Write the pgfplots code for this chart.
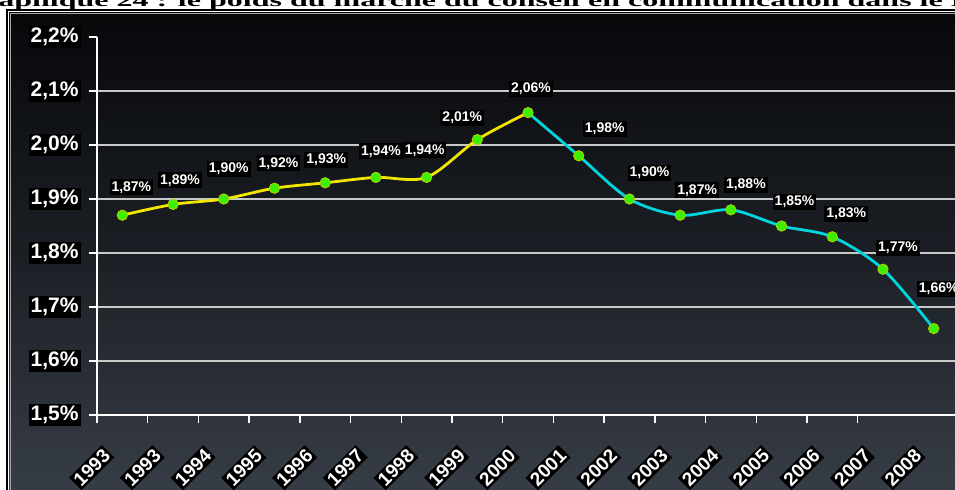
\documentclass[border=0pt]{standalone}
\usepackage{fontspec}
\setmainfont{Liberation Sans}
\newfontfamily\serifb{Liberation Serif}
\usepackage{pgfplots}
\pgfplotsset{compat=1.18}
\definecolor{bgtop}{HTML}{07080A}
\definecolor{bgmid}{HTML}{1B1F25}
\definecolor{bgbot}{HTML}{373D46}
\definecolor{lyellow}{HTML}{F2E600}
\definecolor{lcyan}{HTML}{00D4DC}
\definecolor{mgreen}{HTML}{3CF000}
\definecolor{mgedge}{HTML}{B4D200}
\definecolor{gridc}{HTML}{C8C8C8}
\tikzset{lbl/.style={fill=black, text=white, font=\bfseries\fontsize{7}{8}\selectfont, inner sep=1pt}}
\begin{document}
\begin{tikzpicture}
\path[use as bounding box] (0,0) rectangle (477.5pt,244.5pt);
\clip (0,0) rectangle (477.5pt,244.5pt);
\node[anchor=base west, inner sep=0pt, font=\serifb\bfseries\fontsize{16}{17}\selectfont] at (-1pt,241.5pt) {\scalebox{1}[0.55]{\llap{Gr}aphique 24 : le poids du marché du conseil en communication dans le PIB}};
\shade[top color=bgtop, bottom color=bgbot, middle color=bgmid] (4.5pt,-1pt) rectangle (480pt,238.5pt);
\draw[black, line width=0.8pt] (3.6pt,-2pt) -- (3.6pt,239.4pt) -- (480pt,239.4pt);
\draw[gray!70, line width=0.5pt] (5pt,-2pt) -- (5pt,238pt) -- (480pt,238pt);
\begin{axis}[
  at={(48.5pt,37pt)}, anchor=south west, scale only axis,
  width=429pt, height=189pt,
  xmin=-0.5, xmax=16.42, ymin=1.5, ymax=2.2,
  axis x line*=bottom, axis y line*=left,
  axis line style={white, line width=0.7pt},
  clip=false,
  tick align=outside,
  major tick length=4pt, minor tick length=4pt,
  tick style={white, line width=0.7pt},
  major x tick style={draw=none},
  xtick={0,...,16},
  xticklabels={1993,1993,1994,1995,1996,1997,1998,1999,2000,2001,2002,2003,2004,2005,2006,2007,2008},
  minor xtick={-0.5,0.5,...,14.5},
  ytick={1.6,1.7,1.8,1.9,2.0,2.1},
  yticklabels={{1,6\%},{1,7\%},{1,8\%},{1,9\%},{2,0\%},{2,1\%}},
  extra y ticks={1.5,2.2},
  extra y tick labels={{1,5\%},{2,2\%}},
  extra y tick style={grid=none},
  ymajorgrids,
  major grid style={gridc, line width=0.75pt},
  yticklabel style={fill=black, text=white, font=\bfseries\fontsize{10.5}{12}\selectfont, inner sep=1pt, xshift=-4pt},
  xticklabel style={xshift=-7pt, yshift=-14pt, rotate=45, anchor=east, fill=black, text=white, font=\bfseries\fontsize{9.5}{11}\selectfont, inner sep=1pt},
]
\addplot[lyellow, line width=1.4pt, smooth] coordinates {(0,1.87)(1,1.89)(2,1.90)(3,1.92)(4,1.93)(5,1.94)(6,1.94)(7,2.01)(8,2.06)};
\addplot[lcyan, line width=1.4pt, smooth] coordinates {(8,2.06)(9,1.98)(10,1.90)(11,1.87)(12,1.88)(13,1.85)(14,1.83)(15,1.77)(16,1.66)};
\addplot[only marks, mark=*, mark size=2.6pt, mark options={fill=mgreen, draw=mgedge, line width=0.4pt}] coordinates {(0,1.87)(1,1.89)(2,1.90)(3,1.92)(4,1.93)(5,1.94)(6,1.94)(7,2.01)(8,2.06)(9,1.98)(10,1.90)(11,1.87)(12,1.88)(13,1.85)(14,1.83)(15,1.77)(16,1.66)};
\node[lbl, xshift=4.5pt, yshift=14pt] at (axis cs:0,1.87) {1,87\%};
\node[lbl, xshift=3.5pt, yshift=12pt] at (axis cs:1,1.89) {1,89\%};
\node[lbl, xshift=2.5pt, yshift=15pt] at (axis cs:2,1.90) {1,90\%};
\node[lbl, xshift=2pt, yshift=12.5pt] at (axis cs:3,1.92) {1,92\%};
\node[lbl, xshift=0.5pt, yshift=11.5pt] at (axis cs:4,1.93) {1,93\%};
\node[lbl, xshift=2.5pt, yshift=13pt] at (axis cs:5,1.94) {1,94\%};
\node[lbl, xshift=-1pt, yshift=13.5pt] at (axis cs:6,1.94) {1,94\%};
\node[lbl, xshift=-7.5pt, yshift=11pt] at (axis cs:7,2.01) {2,01\%};
\node[lbl, xshift=1.5pt, yshift=12pt] at (axis cs:8,2.06) {2,06\%};
\node[lbl, xshift=13pt, yshift=13.5pt] at (axis cs:9,1.98) {1,98\%};
\node[lbl, xshift=10pt, yshift=13pt] at (axis cs:10,1.90) {1,90\%};
\node[lbl, xshift=8.5pt, yshift=12.5pt] at (axis cs:11,1.87) {1,87\%};
\node[lbl, xshift=7.5pt, yshift=12.5pt] at (axis cs:12,1.88) {1,88\%};
\node[lbl, xshift=6.5pt, yshift=12pt] at (axis cs:13,1.85) {1,85\%};
\node[lbl, xshift=7pt, yshift=11.5pt] at (axis cs:14,1.83) {1,83\%};
\node[lbl, xshift=7.5pt, yshift=10.5pt] at (axis cs:15,1.77) {1,77\%};
\node[lbl, xshift=2.5pt, yshift=20pt] at (axis cs:16,1.66) {1,66\%};
\end{axis}
\end{tikzpicture}
\end{document}
